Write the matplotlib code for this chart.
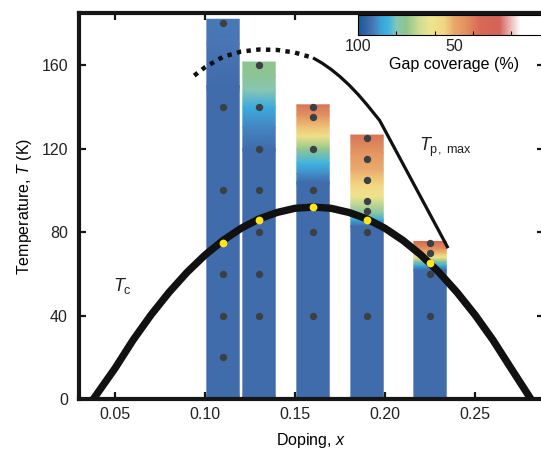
import numpy as np
import matplotlib
matplotlib.use("Agg")
import matplotlib.pyplot as plt
from matplotlib.colors import LinearSegmentedColormap, Normalize

plt.rcParams["font.family"] = ["Liberation Sans", "DejaVu Sans"]
plt.rcParams["mathtext.fontset"] = "custom"
plt.rcParams["mathtext.rm"] = "Liberation Sans"
plt.rcParams["mathtext.it"] = "Liberation Sans:italic"
plt.rcParams["text.color"] = "#222222"

# data
doping = [0.11, 0.13, 0.16, 0.19, 0.225]
bar_top = [182, 161.5, 141, 126.5, 75.5]

# gap coverage (%) profile along each bar: temperatures and coverage values
cov_T = [
    [0, 150, 170, 182],
    [0, 120, 130, 140, 148, 155, 161.5],
    [0, 104, 108, 113, 120, 126, 131, 136, 141],
    [0, 83, 86, 89, 93, 97, 103, 110, 118, 126.5],
    [0, 62, 64, 66, 68, 70, 72, 75.5],
]
cov_val = [
    [94, 94, 92.5, 92],
    [94, 94, 91, 86, 80, 76, 75],
    [94, 94, 90, 84, 74, 60, 52, 44, 38],
    [94, 94, 86, 78, 70, 62, 55, 50, 45, 38],
    [94, 94, 86, 76, 62, 52, 44, 36],
]

# measurement temperatures (grey dots)
dot_T = [
    [20, 40, 60, 100, 140, 180],
    [40, 60, 80, 100, 120, 140, 160],
    [40, 80, 100, 120, 135, 140],
    [40, 80, 90, 95, 105, 115, 125],
    [40, 60, 70, 75],
]
tc_at_bars = [75, 86, 92, 86, 65]

# Tc dome
tc_x = [0.038, 0.05, 0.06, 0.07, 0.08, 0.09, 0.10, 0.11, 0.12, 0.13, 0.14, 0.15, 0.16,
        0.17, 0.18, 0.19, 0.20, 0.21, 0.22, 0.23, 0.24, 0.25, 0.26, 0.27, 0.281]
tc_y = [0, 14.7, 28.2, 40.3, 51.1, 60.7, 69.0, 76.0, 81.8, 86.3, 89.4, 91.4, 92,
        91.4, 89.4, 86.3, 81.8, 76.0, 69.0, 60.7, 51.1, 40.3, 28.2, 14.7, 0]

# Tp,max: dotted (extrapolated) and solid parts
tp_dot_x = [0.094, 0.100, 0.110, 0.120, 0.130, 0.140, 0.150, 0.160]
tp_dot_y = [155, 159, 164, 166.5, 167.5, 167.3, 166, 163.5]
tp_x = [0.160, 0.165, 0.170, 0.175, 0.180, 0.185, 0.190, 0.197, 0.200, 0.210, 0.220, 0.230, 0.235]
tp_y = [163.5, 161, 158, 154.5, 150.5, 146, 141, 133.5, 128.7, 112.6, 96.5, 80.4, 72.3]

# colormap: position 0 = 0 % coverage (white), 1 = 100 % (dark blue)
cmap = LinearSegmentedColormap.from_list("gap", [
    (0.00, "#ffffff"), (0.15, "#ffffff"), (0.20, "#ecbcb8"), (0.26, "#d4625a"),
    (0.36, "#d66a54"), (0.44, "#e2925f"), (0.50, "#eaa86c"), (0.55, "#f2d680"),
    (0.62, "#eee48e"), (0.68, "#cfdc94"), (0.75, "#8ec48c"), (0.80, "#86c6b4"),
    (0.84, "#40b4e2"), (0.88, "#3aa4da"), (0.93, "#4a70b0"), (0.97, "#2a62a2"),
    (1.00, "#1a5898")])
norm = Normalize(0, 100)

fig = plt.figure(figsize=(5.41, 4.54), dpi=100)
ax = fig.add_axes([79 / 541, 55 / 454, 465 / 541, 386 / 454])

width = 0.018
for i, x in enumerate(doping):
    T = np.array(cov_T[i], dtype=float)
    T[-1] = bar_top[i]
    C = np.array(cov_val[i], dtype=float)
    X = np.column_stack([np.full(len(T), x - width / 2), np.full(len(T), x + width / 2)])
    Y = np.column_stack([T, T])
    ax.pcolormesh(X, Y, np.column_stack([C, C]), cmap=cmap, norm=norm,
                  shading="gouraud", zorder=1)

ax.plot(tp_dot_x, tp_dot_y, color="#111111", lw=3.2, ls=(0, (1, 1.2)),
        dash_capstyle="butt", zorder=2)
ax.plot(tp_x, tp_y, color="#111111", lw=2.3, solid_capstyle="butt", zorder=2)
ax.plot(tc_x, tc_y, color="#111111", lw=5.3, solid_capstyle="butt", zorder=3)

for i, x in enumerate(doping):
    ax.plot([x] * len(dot_T[i]), dot_T[i], "o", color="#3a4044", ms=5.3, mew=0, zorder=4)
ax.plot(doping, tc_at_bars, "o", color="#ffe61c", ms=5.6, mew=0, zorder=5)

ax.text(0.049, 52, r"$T_{\rm c}$", fontsize=13)
ax.text(0.219, 119, r"$T_{\rm p,\ max}$", fontsize=13)

ax.set_xlim(0.030, 0.2883)
ax.set_ylim(0, 185)
ax.set_xticks([0.05, 0.10, 0.15, 0.20, 0.25])
ax.set_xticklabels(["0.05", "0.10", "0.15", "0.20", "0.25"])
ax.set_yticks([0, 40, 80, 120, 160])
for s in ax.spines.values():
    s.set_linewidth(3)
    s.set_color("#161616")
ax.tick_params(direction="in", length=5, width=1.6, color="#161616",
               top=True, right=True, labelsize=11.5, labelcolor="#222222")
ax.tick_params(axis="x", pad=6)
ax.tick_params(axis="y", pad=8)
ax.set_xlabel("Doping, $x$", fontsize=11.5, labelpad=6)
ax.set_ylabel("Temperature, $T$ (K)", fontsize=11.5, labelpad=5)

# colorbar sitting under the top spine
cax = fig.add_axes([358 / 541, (454 - 35) / 454, 191.5 / 541, 20 / 454])
sm = plt.cm.ScalarMappable(norm=norm, cmap=cmap)
cb = fig.colorbar(sm, cax=cax, orientation="horizontal")
cax.invert_xaxis()
cb.set_ticks([100, 50, 0])
cb.set_ticks([80, 60, 40, 20], minor=True)
cb.outline.set_linewidth(0.8)
cax.tick_params(which="major", length=0, pad=3, labelsize=11.5, labelcolor="#222222")
cax.tick_params(which="minor", direction="in", length=3, width=0.8, top=False)
cb.set_label("Gap coverage (%)", fontsize=11.5, labelpad=2)

plt.savefig("out.png", dpi=100)
plt.close()
